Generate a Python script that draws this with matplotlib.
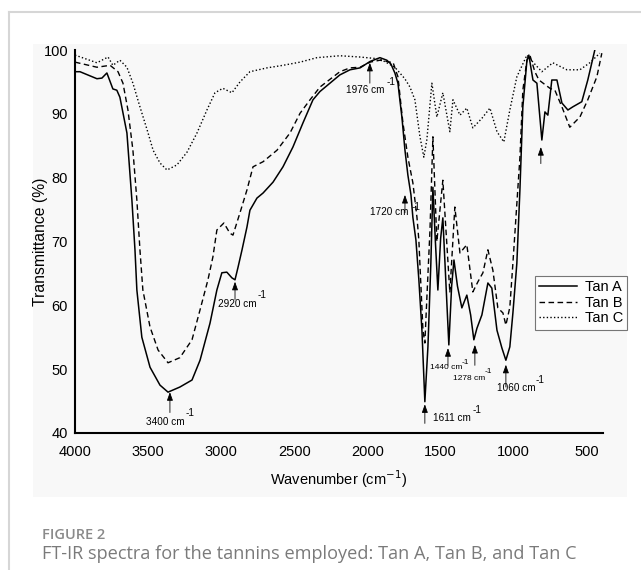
import matplotlib
matplotlib.use("Agg")
import matplotlib.pyplot as plt
from matplotlib.patches import Rectangle
from matplotlib.lines import Line2D

# --- spectra (wavenumber cm-1, transmittance %) ---
tan_a_wn = [4000, 3966, 3850, 3816, 3782, 3741, 3714, 3693, 3645, 3611, 3590, 3577, 3543, 3487,
            3419, 3364, 3283, 3200, 3145, 3077, 3030, 2996, 2962, 2927, 2906, 2885, 2858, 2824,
            2804, 2756, 2714, 2646, 2578, 2510, 2441, 2373, 2325, 2257, 2189, 2120, 2051, 1983,
            1915, 1868, 1840, 1813, 1792, 1779, 1765, 1744, 1724, 1703, 1690, 1669, 1649, 1628,
            1608, 1587, 1567, 1553, 1536, 1519, 1500, 1485, 1465, 1444, 1425, 1409, 1385, 1355,
            1321, 1295, 1273, 1252, 1218, 1177, 1150, 1115, 1081, 1054, 1027, 1006, 979, 958,
            938, 910, 897, 869, 842, 808, 787, 767, 740, 705, 671, 630, 596, 535, 494, 446]
tan_a_t = [96.6, 96.6, 95.5, 95.6, 96.4, 93.9, 93.7, 92.6, 87.0, 76.5, 68.7, 62.4, 55.0, 50.3,
           47.5, 46.4, 47.2, 48.3, 51.4, 57.2, 62.4, 65.1, 65.2, 64.3, 64.0, 66.0, 68.7, 72.3,
           74.9, 76.8, 77.6, 79.3, 81.7, 84.8, 88.6, 92.2, 93.5, 94.8, 96.1, 96.9, 97.2, 98.2,
           98.8, 98.4, 97.8, 96.4, 94.8, 92.2, 89.5, 84.3, 80.4, 77.3, 73.8, 70.2, 64.0, 56.1,
           44.9, 53.5, 66.6, 78.5, 70.0, 62.4, 70.5, 73.7, 64.0, 53.8, 63.0, 67.1, 63.0, 59.6,
           61.6, 58.5, 54.6, 56.4, 58.5, 63.5, 62.7, 56.1, 53.3, 51.4, 53.5, 58.8, 66.6, 78.1,
           91.1, 98.4, 99.2, 95.3, 94.8, 85.9, 90.3, 89.8, 95.3, 95.3, 91.7, 90.6, 91.1, 91.9, 95.3, 100.0]

tan_b_wn = [4000, 3850, 3760, 3706, 3672, 3638, 3604, 3577, 3556, 3536, 3487, 3432, 3364, 3283,
            3200, 3145, 3091, 3057, 3030, 2982, 2941, 2920, 2872, 2824, 2783, 2714, 2619, 2530,
            2461, 2393, 2325, 2189, 2120, 2051, 1983, 1915, 1847, 1826, 1792, 1758, 1724, 1690,
            1662, 1649, 1642, 1621, 1608, 1594, 1573, 1553, 1526, 1485, 1437, 1403, 1368, 1321,
            1280, 1245, 1211, 1177, 1143, 1109, 1074, 1054, 1027, 1006, 958, 938, 910, 890, 856,
            828, 753, 719, 671, 617, 548, 494, 432, 398]
tan_b_t = [98.1, 97.3, 97.6, 96.6, 94.8, 90.6, 84.3, 76.5, 68.7, 62.4, 56.6, 53.0, 51.0, 51.8,
           54.6, 59.3, 64.0, 67.6, 71.8, 72.9, 71.3, 71.0, 74.5, 78.1, 81.7, 82.5, 84.3, 87.0,
           90.1, 92.2, 94.2, 96.6, 97.2, 97.3, 98.1, 98.4, 98.1, 98.1, 95.8, 88.6, 83.2, 79.2,
           73.8, 70.2, 66.6, 56.1, 54.1, 61.3, 71.8, 86.4, 70.0, 79.6, 62.0, 75.4, 68.2, 69.5,
           62.1, 63.7, 65.1, 68.7, 65.5, 59.6, 58.8, 56.9, 59.7, 66.6, 83.2, 93.7, 98.4, 99.2, 96.6,
           95.3, 94.0, 93.7, 91.1, 87.9, 89.5, 92.2, 95.8, 99.5]

tan_c_wn = [4000, 3850, 3774, 3741, 3693, 3645, 3604, 3556, 3507, 3466, 3419, 3371, 3303, 3234,
            3166, 3098, 3043, 2989, 2927, 2872, 2804, 2687, 2578, 2461, 2346, 2189, 2052, 1915,
            1813, 1745, 1710, 1676, 1642, 1615, 1594, 1560, 1526, 1485, 1437, 1416, 1368, 1321,
            1280, 1218, 1163, 1115, 1068, 1027, 979, 910, 869, 808, 733, 637, 548, 480, 412]
tan_c_t = [99.2, 98.0, 98.9, 97.6, 98.4, 97.3, 94.8, 91.1, 87.5, 84.3, 82.3, 81.2, 82.0, 84.0,
           87.0, 90.6, 93.3, 94.0, 93.3, 95.0, 96.6, 97.2, 97.6, 98.1, 98.8, 99.1, 98.9, 98.6,
           97.3, 95.5, 94.2, 92.2, 86.5, 83.2, 86.0, 94.8, 89.5, 93.3, 87.2, 92.2, 89.8, 90.9,
           87.8, 89.3, 90.9, 87.2, 85.6, 90.6, 95.8, 99.2, 98.1, 96.6, 98.0, 96.9, 96.9, 98.0, 99.5]

# arrow annotations: (wavenumber, tip %, tail %, label, label pos, "-1" pos, fontsize)
peaks = [
    (3351, 46.4, 43.2, "3400 cm", (3385, 41.7), (3214, 43.1), 7.2),
    (2906, 63.7, 60.9, "2920 cm", (2893, 60.2), (2722, 61.6), 7.2),
    (1984, 98.0, 94.8, "1976 cm", (2018, 93.7), (1840, 95.0), 7.2),
    (1744, 77.3, 74.5, "1720 cm", (1854, 74.6), (1669, 75.4), 7.2),
    (1608, 44.5, 41.5, "1611 cm", (1423, 42.3), (1252, 43.6), 7.2),
    (1450, 53.3, 50.6, "1440 cm", (1464, 50.2), (1334, 51.1), 6.0),
    (1266, 53.8, 50.6, "1278 cm", (1307, 48.6), (1177, 49.6), 6.0),
    (1054, 50.7, 47.2, "1060 cm", (986, 47.0), (822, 48.3), 7.2),
    (815, 84.8, 82.2, "", None, None, 7.2),
]

plt.rcParams['font.family'] = ['Liberation Sans', 'DejaVu Sans']

fig = plt.figure(figsize=(6.41, 5.70), dpi=100)
fig.patch.set_facecolor("white")

# page frame + grey panel behind the chart
fig.patches.append(Rectangle((33/641, 1-497/570), 594/641, 453/570, transform=fig.transFigure,
                             facecolor="#f8f8f8", edgecolor="none", zorder=-10))
fig.lines.append(Line2D([9/641, 1], [1-12/570, 1-12/570], transform=fig.transFigure,
                        color="#d6d6d6", lw=1.5, zorder=-10))
fig.lines.append(Line2D([9/641, 9/641], [0, 1-12/570], transform=fig.transFigure,
                        color="#d6d6d6", lw=1.5, zorder=-10))

ax = fig.add_axes([75/641, 1-433/570, 528/641, 383/570])
ax.patch.set_alpha(0)

ax.plot(tan_a_wn, tan_a_t, color="black", lw=1.1, label="Tan A")
ax.plot(tan_b_wn, tan_b_t, color="black", lw=1.0, ls=(0, (4, 2.5)), label="Tan B")
ax.plot(tan_c_wn, tan_c_t, color="black", lw=1.0, ls=(0, (1, 1.6)), label="Tan C")

for wn, tip, tail, lab, lpos, spos, fs in peaks:
    ax.annotate("", xy=(wn, tip), xytext=(wn, tail),
                arrowprops=dict(arrowstyle="-|>,head_length=0.5,head_width=0.18",
                                color="black", lw=0.6, shrinkA=0, shrinkB=0))
    if lab:
        ax.text(lpos[0], lpos[1], lab, fontsize=fs, ha="center", va="center")
        ax.text(spos[0], spos[1], "-1", fontsize=fs, ha="center", va="center")

ax.set_xlim(4000, 390)
ax.set_ylim(40, 100)
ax.set_xticks([4000, 3500, 3000, 2500, 2000, 1500, 1000, 500])
ax.set_yticks([40, 50, 60, 70, 80, 90, 100])
ax.tick_params(length=0, labelsize=10.5)
ax.tick_params(axis="x", pad=9)
ax.tick_params(axis="y", pad=5)
for s in ["top", "right"]:
    ax.spines[s].set_visible(False)
for s in ["left", "bottom"]:
    ax.spines[s].set_linewidth(1.5)

ax.set_ylabel("Transmittance (%)", fontsize=11.3, labelpad=-3)
ax.set_xlabel("Wavenumber (cm$^{-1}$)", fontsize=10.5, labelpad=6)

leg = ax.legend(loc="upper right", bbox_to_anchor=(1.046, 0.41), fontsize=10.5, frameon=True,
                fancybox=False, edgecolor="#555555", handlelength=2.6, handletextpad=0.5,
                labelspacing=0.1, borderpad=0.3, borderaxespad=0)
leg.get_frame().set_linewidth(0.8)
leg.get_frame().set_facecolor("white")

fig.text(42/641, 1-535/570, "FIGURE 2", fontsize=10.5, color="#8a8a8a", fontweight="semibold",
         family=["Open Sans", "DejaVu Sans"], va="center")
fig.text(42/641, 1-554/570, "FT-IR spectra for the tannins employed: Tan A, Tan B, and Tan C",
         fontsize=13.1, color="#7a7a7a", family=["Open Sans", "DejaVu Sans"], va="center")

fig.savefig("out.png", dpi=100)
